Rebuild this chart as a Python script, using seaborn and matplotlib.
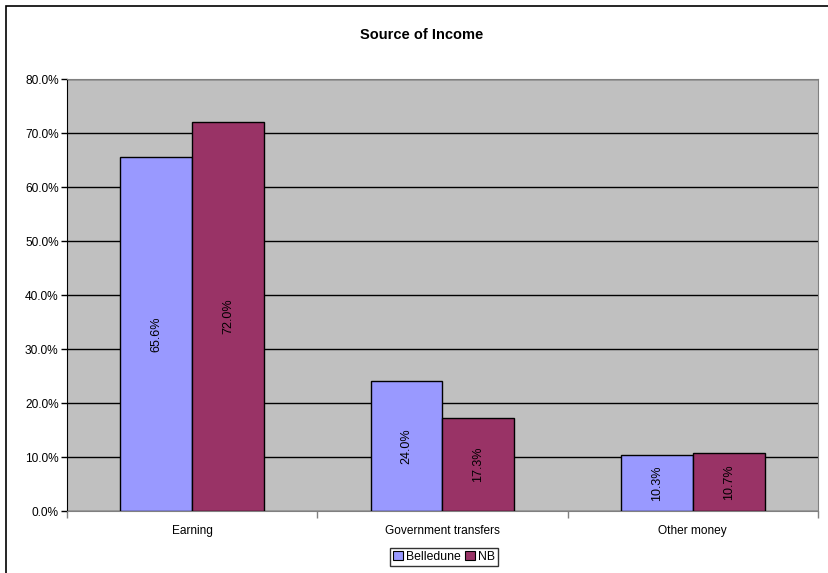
import pandas as pd
import numpy as np
import matplotlib.pyplot as plt
import seaborn as sns
from matplotlib.patches import Rectangle
from matplotlib.ticker import PercentFormatter

# data
categories = ["Earning", "Government transfers", "Other money"]
series = ["Belledune", "NB"]
belledune = [65.6, 24.0, 10.3]
nb = [72.0, 17.3, 10.7]
colors = ["#9999FF", "#993366"]

df = pd.DataFrame({
    "Source": categories * 2,
    "Area": [series[0]] * 3 + [series[1]] * 3,
    "Share": belledune + nb,
})

sns.set_style("white")
plt.rcParams["font.family"] = ["Liberation Sans", "DejaVu Sans"]
plt.rcParams["text.color"] = "black"
plt.rcParams["xtick.color"] = "black"
plt.rcParams["ytick.color"] = "black"

fig = plt.figure(figsize=(8.29, 5.73), dpi=100)
W, H = 829, 573
ax = fig.add_axes([67 / W, 1 - 511 / H, (818 - 67) / W, (511 - 79) / H])
ax.set_facecolor("#C0C0C0")

sns.barplot(data=df, x="Source", y="Share", hue="Area", hue_order=series,
            palette=colors, edgecolor="black", linewidth=1, width=0.575,
            gap=0, saturation=1, ax=ax, legend=True, zorder=3)

ax.set_ylim(0, 80)
ax.set_xlim(-0.5, 2.5)
ax.set_yticks(np.arange(0, 81, 10))
ax.yaxis.set_major_formatter(PercentFormatter(decimals=1))
ax.grid(axis="y", color="black", linewidth=1, zorder=0)
ax.set_axisbelow(True)
ax.set_xlabel("")
ax.set_ylabel("")

# category ticks sit between groups, labels in the middle
ax.set_xticks([-0.5, 0.5, 1.5, 2.5])
ax.set_xticklabels([])
ax.set_xticks([0, 1, 2], minor=True)
ax.set_xticklabels(categories, minor=True)
ax.tick_params(axis="x", which="minor", length=0, pad=10, labelsize=8.6)
ax.tick_params(axis="x", which="major", length=5, width=1, color="#808080", direction="out")
ax.tick_params(axis="y", length=4, width=1, color="black", direction="out", labelsize=8.6, pad=2)
ax.tick_params(bottom=True, left=True)

for s in ["top", "right"]:
    ax.spines[s].set_visible(True)
    ax.spines[s].set_color("#808080")
ax.spines["left"].set_color("black")
ax.spines["bottom"].set_color("#808080")

for cont in ax.containers:
    ax.bar_label(cont, fmt="%.1f%%", label_type="center", rotation=90,
                 fontsize=9, color="black")

fig.text(422 / W, 1 - 35 / H, "Source of Income", fontsize=10.5,
         fontweight="bold", ha="center", va="center")

leg = ax.legend(loc="center", bbox_to_anchor=(444 / W, 1 - 557 / H),
                bbox_transform=fig.transFigure, ncol=2, fontsize=8.8,
                frameon=True, fancybox=False, edgecolor="black",
                handlelength=0.8, handleheight=0.8, handletextpad=0.2,
                columnspacing=0.4, borderpad=0.25, borderaxespad=0)
leg.get_frame().set_linewidth(1)
for h in leg.legend_handles:
    h.set_edgecolor("black")
    h.set_linewidth(0.8)

fig.patches.append(Rectangle((6 / W, -0.01), 1.0, 1 - 6 / H + 0.01,
                             transform=fig.transFigure, fill=False,
                             edgecolor="black", linewidth=1.2))

fig.savefig("out.png", dpi=100)
